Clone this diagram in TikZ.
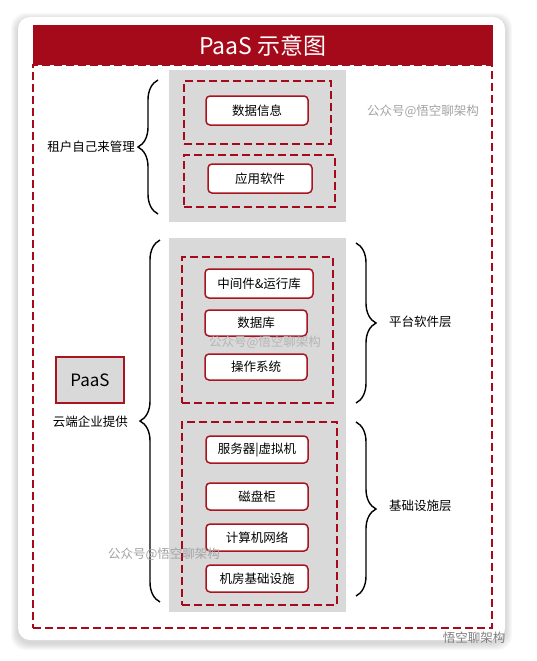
\documentclass[tikz,border=0pt]{standalone}
\usepackage{fontspec}
\setmainfont{Noto Sans CJK SC}
\usetikzlibrary{decorations.pathreplacing}
\definecolor{paasred}{HTML}{A50A1A}
\definecolor{boxred}{HTML}{A8141F}
\definecolor{panelgray}{HTML}{D9D9D9}
\definecolor{markgray}{HTML}{A3A3A3}
\begin{document}
\begin{tikzpicture}[x=1pt,y=-1pt,
  panel/.style={fill=panelgray,inner sep=0pt,outer sep=0pt},
  dashbox/.style={draw=paasred,line width=1.6pt,dash pattern=on 8pt off 4pt,inner sep=0pt,outer sep=0pt},
  item/.style={draw=boxred,fill=white,line width=1.5pt,rounded corners=4pt,inner sep=0pt,
    font=\fontsize{12.5}{15}\selectfont},
  lbl/.style={font=\fontsize{12.5}{15}\selectfont,inner sep=0pt},
  wmtext/.style={text=markgray,font=\fontsize{12.5}{15}\selectfont,inner sep=0pt},
  brc/.style={decorate,decoration={brace,amplitude=20pt},line width=1.4pt}]
\useasboundingbox (0,0) rectangle (536,661);
%sombra e cartao
  \foreach \s in {1,...,7}
    \fill[black,opacity=0.025,rounded corners=14pt] (18-\s,17-\s+3) rectangle (505+\s,640+\s+3);
  \node[fill=white,rounded corners=12pt,minimum width=487pt,minimum height=623pt,inner sep=0pt] (card) at (261.5,328.5) {};
%caixa externa e titulo
  \node[dashbox,minimum width=459pt,minimum height=563pt] (outer) at (262.5,346.5) {};
  \node[fill=paasred,minimum width=460pt,minimum height=40pt,inner sep=0pt,text=white,
    font=\fontsize{23}{26}\selectfont] (title) at (263,45.5) {PaaS 示意图};
%bloco do inquilino
  \node[panel,minimum width=177pt,minimum height=152pt] (ptop) at (257.5,146) {};
  \node[dashbox,minimum width=147pt,minimum height=63pt] (dados) at (257.5,112.5) {};
  \node[dashbox,minimum width=151pt,minimum height=52pt] (app) at (259.5,181) {};
  \node[item,minimum width=102pt,minimum height=29pt] (shuju) at (257,110.5) {数据信息};
  \node[item,minimum width=104pt,minimum height=29pt] (yingyong) at (260,178.5) {应用软件};
%bloco da nuvem
  \node[panel,minimum width=177pt,minimum height=374pt] (pbot) at (257.5,425) {};
  \node[dashbox,minimum width=151pt,minimum height=146pt] (plat) at (257.5,330) {};
  \node[dashbox,minimum width=155pt,minimum height=183pt] (infra) at (259.5,513.5) {};
  \node[item,minimum width=108pt,minimum height=29pt] (zhongjian) at (259,283.5) {中间件\&运行库};
  \node[item,minimum width=102pt,minimum height=26pt] (shujuku) at (256,323) {数据库};
  \node[item,minimum width=102pt,minimum height=26pt] (caozuo) at (256,367) {操作系统};
  \node[item,minimum width=102pt,minimum height=27pt] (fuwuqi) at (257,449.5) {服务器|虚拟机};
  \node[item,minimum width=102pt,minimum height=27pt] (cipan) at (257,496.5) {磁盘柜};
  \node[item,minimum width=102pt,minimum height=27pt] (jisuanji) at (257,537.5) {计算机网络};
  \node[item,minimum width=102pt,minimum height=27pt] (jifang) at (257,578.5) {机房基础设施};
%caixa paas
  \node[draw=boxred,fill=panelgray,line width=1.5pt,minimum width=68pt,minimum height=46pt,inner sep=0pt,
    font=\fontsize{17}{20}\selectfont] (paas) at (90,380) {PaaS};
%chaves
  \coordinate (zuhu-a) at (158,214);
  \coordinate (zuhu-b) at (158,80);
  \coordinate (yun-a) at (160,602);
  \coordinate (yun-b) at (160,240);
  \coordinate (ping-a) at (356,243);
  \coordinate (ping-b) at (356,403);
  \coordinate (jichu-a) at (356,422);
  \coordinate (jichu-b) at (356,596);
  \draw[brc] (zuhu-a) -- (zuhu-b);
  \draw[brc] (yun-a) -- (yun-b);
  \draw[brc] (ping-a) -- (ping-b);
  \draw[brc] (jichu-a) -- (jichu-b);
%rotulos
  \node[lbl,anchor=east] (zuhu) at (135,147) {租户自己来管理};
  \node[lbl,anchor=east] (yun) at (128,422) {云端企业提供};
  \node[lbl,anchor=west] (ping) at (389,322) {平台软件层};
  \node[lbl,anchor=west] (jichu) at (389,506) {基础设施层};
%marcas d'agua
  \node[wmtext] (wm1) at (423,111) {公众号@悟空聊架构};
  \node[wmtext,text=markgray!80] (wm2) at (265,342) {公众号@悟空聊架构};
  \node[wmtext] (wm3) at (164,554) {公众号@悟空聊架构};
  \node[wmtext,text=gray] (wm4) at (474,638) {悟空聊架构};
\end{tikzpicture}
\end{document}
